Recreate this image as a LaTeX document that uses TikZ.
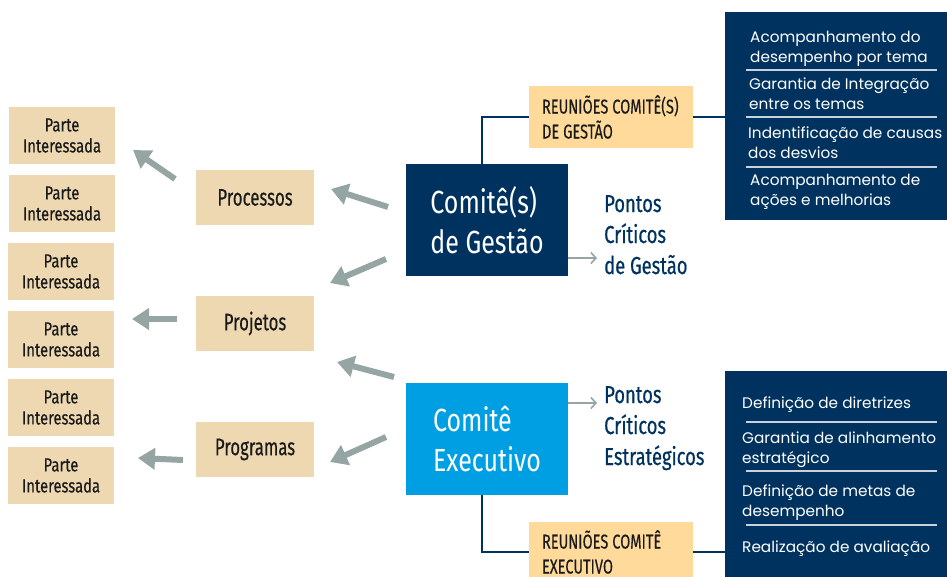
\documentclass[tikz,border=0pt]{standalone}
\usepackage{fontspec}
\setmainfont{Poppins}
\newfontfamily\condf[FakeStretch=0.78]{Fira Sans}
\newfontfamily\condm[FakeStretch=0.78,FakeBold=0.3]{Fira Sans}
\newfontfamily\condn[FakeStretch=0.70,FakeBold=0.3]{Fira Sans}
\newfontfamily\condr[FakeStretch=0.73,FakeBold=0.3]{Fira Sans}
\newfontfamily\condb[FakeStretch=0.75,FakeBold=0.6]{Fira Sans}
\newcommand{\wsp}{\hspace{4pt}}
\usetikzlibrary{arrows.meta}
\definecolor{navy}{HTML}{00325F}
\definecolor{lblue}{HTML}{009FE3}
\definecolor{beige}{HTML}{EDD8B1}
\definecolor{gold}{HTML}{FFDA9B}
\definecolor{agrey}{HTML}{95A5A4}
\definecolor{txt}{HTML}{1A1A1A}
\definecolor{sep}{HTML}{C9D1DA}
\tikzset{
  parte/.style={fill=beige, minimum width=106pt, minimum height=57pt, inner sep=0pt, align=center, text=txt, font=\condm\fontsize{19}{21}\selectfont},
  midbox/.style={fill=beige, minimum width=118pt, minimum height=55pt, inner sep=0pt, text=txt, font=\condn\fontsize{24}{28}\selectfont},
  comite/.style={minimum width=162pt, minimum height=112pt, inner sep=0pt, align=left, text=white, font=\condf\fontsize{32}{40}\selectfont},
  reun/.style={fill=gold, minimum width=164pt, inner xsep=13pt, inner ysep=0pt, text width=138pt, align=left, text=txt, font=\condr\fontsize{20}{25}\selectfont},
  panel/.style={fill=navy, minimum width=222pt, inner sep=0pt},
  item/.style={anchor=base west, inner sep=0pt, align=left, text=white, font=\fontsize{15.3}{20}\selectfont},
  pontos/.style={anchor=base west, inner sep=0pt, align=left, text=navy, font=\condb\fontsize{24.5}{31}\selectfont},
  conn/.style={draw=navy, line width=1.6pt},
  sepline/.style={draw=sep, line width=1.4pt},
  bigarrow/.style={draw=agrey, line width=6pt, -{Triangle[length=17pt,width=21pt]}},
  thinarrow/.style={draw=agrey, line width=1.6pt, -{Straight Barb[length=5pt,width=11pt]}}
}
\begin{document}
\begin{tikzpicture}[x=1pt,y=-1pt]
\useasboundingbox (0,0) rectangle (947,577);
% stakeholder boxes
\node[parte] (p1) at (62,135.5) {Parte\\Interessada};
\node[parte] (p2) at (62,203.5) {Parte\\Interessada};
\node[parte] (p3) at (61,271.5) {Parte\\Interessada};
\node[parte] (p4) at (61,339.5) {Parte\\Interessada};
\node[parte] (p5) at (61,407.5) {Parte\\Interessada};
\node[parte] (p6) at (61,475.5) {Parte\\Interessada};
% middle boxes
\node[midbox] (proc) at (255,197.5) {Processos};
\node[midbox] (proj) at (255,323.5) {Projetos};
\node[midbox] (prog) at (255,449.5) {Programas};
% committees
\node[comite, fill=navy] (gest) at (487,220) {Comitê(s)\\de Gestão};
\node[comite, fill=lblue] (exec) at (487,439) {Comitê\\Executivo};
% meetings
\node[reun, minimum height=62pt] (reunG) at (611,117) {REUNIÕES\wsp COMITÊ(S)\\DE\wsp GESTÃO};
\node[reun, minimum height=60pt] (reunE) at (611,552) {REUNIÕES\wsp COMITÊ\\EXECUTIVO};
% panels
\node[panel, minimum height=208pt] (panT) at (836,116) {};
\node[panel, minimum height=212pt] (panB) at (836,477) {};
% panel separators
\draw[sepline] (746,70) -- (937,70);
\draw[sepline] (746,117) -- (937,117);
\draw[sepline] (746,167) -- (937,167);
\draw[sepline] (746,422) -- (937,422);
\draw[sepline] (746,471) -- (937,471);
\draw[sepline] (746,525) -- (937,525);
% panel items (anchor = baseline of last line)
\node[item] (t1) at (750,63) {Acompanhamento do\\desempenho por tema};
\node[item] (t2) at (749,110) {Garantia de Integração\\entre os temas};
\node[item] (t3) at (748,159) {Indentificação de causas\\dos desvios};
\node[item] (t4) at (750,206) {Acompanhamento de\\ações e melhorias};
\node[item] (b1) at (742,408) {Definição de diretrizes};
\node[item] (b2) at (742,463) {Garantia de alinhamento\\estratégico};
\node[item] (b3) at (742,516) {Definição de metas de\\desempenho};
\node[item] (b4) at (742,552) {Realização de avaliação};
% critical points
\node[pontos] (pcg) at (604,274) {Pontos\\Críticos\\de Gestão};
\node[pontos] (pce) at (604,465) {Pontos\\Críticos\\Estratégicos};
% connectors
\draw[conn] ([xshift=-5pt]gest.north) |- (reunG.west);
\draw[conn] (reunG.east) -- (panT.west |- reunG.east);
\draw[conn] ([xshift=-5pt]exec.south) |- (reunE.west);
\draw[conn] (reunE.east) -- (panB.west |- reunE.east);
\coordinate (ag) at (597,258);
\coordinate (ae) at (597,403);
\draw[thinarrow] (gest.east |- ag) -- (ag);
\draw[thinarrow] (exec.east |- ae) -- (ae);
% big arrows
\coordinate (a1s) at (175,179); \coordinate (a1e) at (133,150);
\coordinate (a2s) at (388,207); \coordinate (a2e) at (331,189);
\coordinate (a3s) at (386,259); \coordinate (a3e) at (330,283);
\coordinate (a4s) at (177,319); \coordinate (a4e) at (132,319);
\coordinate (a5s) at (394,377); \coordinate (a5e) at (337,362);
\coordinate (a6s) at (386,437); \coordinate (a6e) at (330,462);
\coordinate (a7s) at (183,460); \coordinate (a7e) at (138,458);
\draw[bigarrow] (a1s) -- (a1e);
\draw[bigarrow] (a2s) -- (a2e);
\draw[bigarrow] (a3s) -- (a3e);
\draw[bigarrow] (a4s) -- (a4e);
\draw[bigarrow] (a5s) -- (a5e);
\draw[bigarrow] (a6s) -- (a6e);
\draw[bigarrow] (a7s) -- (a7e);
\end{tikzpicture}
\end{document}
